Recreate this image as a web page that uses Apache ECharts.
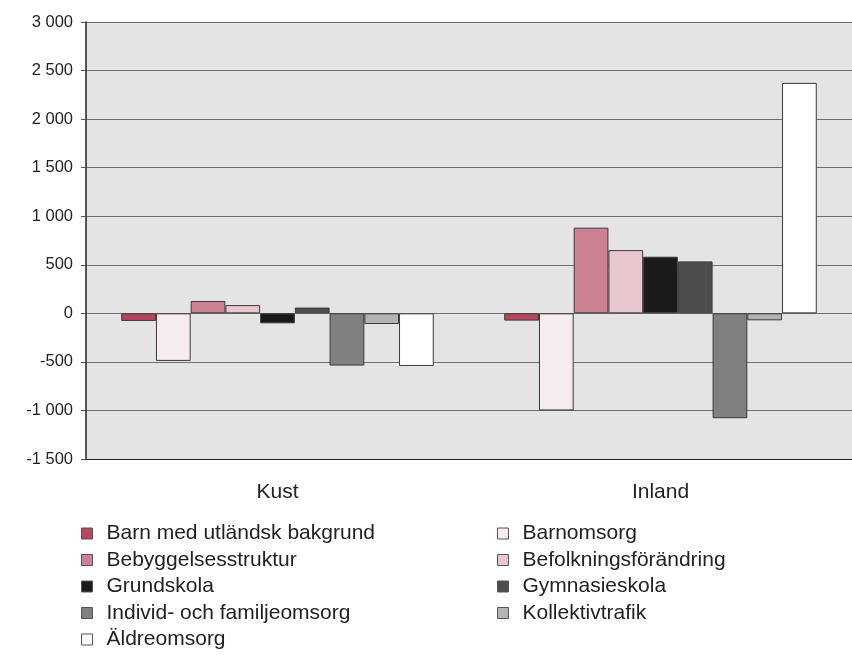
<!DOCTYPE html>
<html>
<head>
<meta charset="utf-8">
<script src="https://cdn.jsdelivr.net/npm/echarts@6/dist/echarts.min.js"></script>
<style>
  html, body { margin: 0; padding: 0; background: #ffffff; }
  #chart { width: 852px; height: 655px; }
</style>
</head>
<body>
<div id="chart"></div>
<script>
// Regions on the category axis
const categories = ['Kust', 'Inland'];

// Series names, in drawing order
const seriesNames = [
  'Barn med utländsk bakgrund',
  'Barnomsorg',
  'Bebyggelsesstruktur',
  'Befolkningsförändring',
  'Grundskola',
  'Gymnasieskola',
  'Individ- och familjeomsorg',
  'Kollektivtrafik',
  'Äldreomsorg'
];

// Values per series: [Kust, Inland]
const barnMedUtlandskBakgrund = [-78, -75];
const barnomsorg = [-490, -1000];
const bebyggelsesstruktur = [127, 882];
const befolkningsforandring = [85, 651];
const grundskola = [-103, 583];
const gymnasieskola = [59, 535];
const individOchFamiljeomsorg = [-538, -1080];
const kollektivtrafik = [-110, -72];
const aldreomsorg = [-542, 2373];

const seriesValues = [
  barnMedUtlandskBakgrund, barnomsorg, bebyggelsesstruktur, befolkningsforandring,
  grundskola, gymnasieskola, individOchFamiljeomsorg, kollektivtrafik, aldreomsorg
];

const seriesColors = [
  '#b6455f', '#f7eced', '#cc8191', '#e8c7ce',
  '#1a1a1a', '#4d4d4d', '#808080', '#b3b3b3', '#ffffff'
];

// Value axis range and step
const yMin = -1500;
const yMax = 3000;
const yStep = 500;

// Legend columns
const legendLeft = ['Barn med utländsk bakgrund', 'Bebyggelsesstruktur', 'Grundskola', 'Individ- och familjeomsorg', 'Äldreomsorg'];
const legendRight = ['Barnomsorg', 'Befolkningsförändring', 'Gymnasieskola', 'Kollektivtrafik'];

const FONT = '"Liberation Sans", Arial, sans-serif';

function fmt(v) {
  const s = String(Math.abs(v)).replace(/\B(?=(\d{3})+(?!\d))/g, ' ');
  return (v < 0 ? '-' : '') + s;
}

const chart = echarts.init(document.getElementById('chart'), null, { renderer: 'canvas' });

const legendText = { fontFamily: FONT, fontSize: 21, color: '#222222', padding: [0, 0, 0, 9] };
const legendCommon = {
  orient: 'vertical', top: 523, padding: 0,
  itemWidth: 11, itemHeight: 11, itemGap: 5.5, icon: 'rect',
  itemStyle: { borderWidth: 1, borderColor: '#555555' },
  textStyle: legendText, selectedMode: false
};

chart.setOption({
  backgroundColor: '#ffffff',
  animation: false,
  grid: {
    left: 86, width: 768, top: 22, bottom: 196,
    show: true, backgroundColor: '#e4e4e4', borderWidth: 0
  },
  legend: [
    Object.assign({ data: legendLeft, left: 81 }, legendCommon),
    Object.assign({ data: legendRight, left: 497 }, legendCommon)
  ],
  xAxis: {
    type: 'category',
    data: categories,
    axisLine: { onZero: false, lineStyle: { color: '#222222', width: 1 } },
    axisTick: { show: false },
    axisLabel: { fontFamily: FONT, fontSize: 21, color: '#222222', margin: 23 }
  },
  yAxis: {
    type: 'value',
    min: yMin, max: yMax, interval: yStep,
    axisLine: { show: true, lineStyle: { color: '#222222', width: 1.5 } },
    axisTick: { show: true, length: 5, lineStyle: { color: '#555555' } },
    splitLine: { show: true, lineStyle: { color: '#707070', width: 1 } },
    axisLabel: {
      fontFamily: FONT, fontSize: 16.5, color: '#222222', margin: 13,
      formatter: fmt
    }
  },
  series: seriesNames.map((name, i) => ({
    name: name,
    type: 'bar',
    data: seriesValues[i],
    barGap: '0%',
    barCategoryGap: '18.4%',
    itemStyle: { color: seriesColors[i], borderColor: '#3a3a3a', borderWidth: 1 }
  }))
});
</script>
</body>
</html>
